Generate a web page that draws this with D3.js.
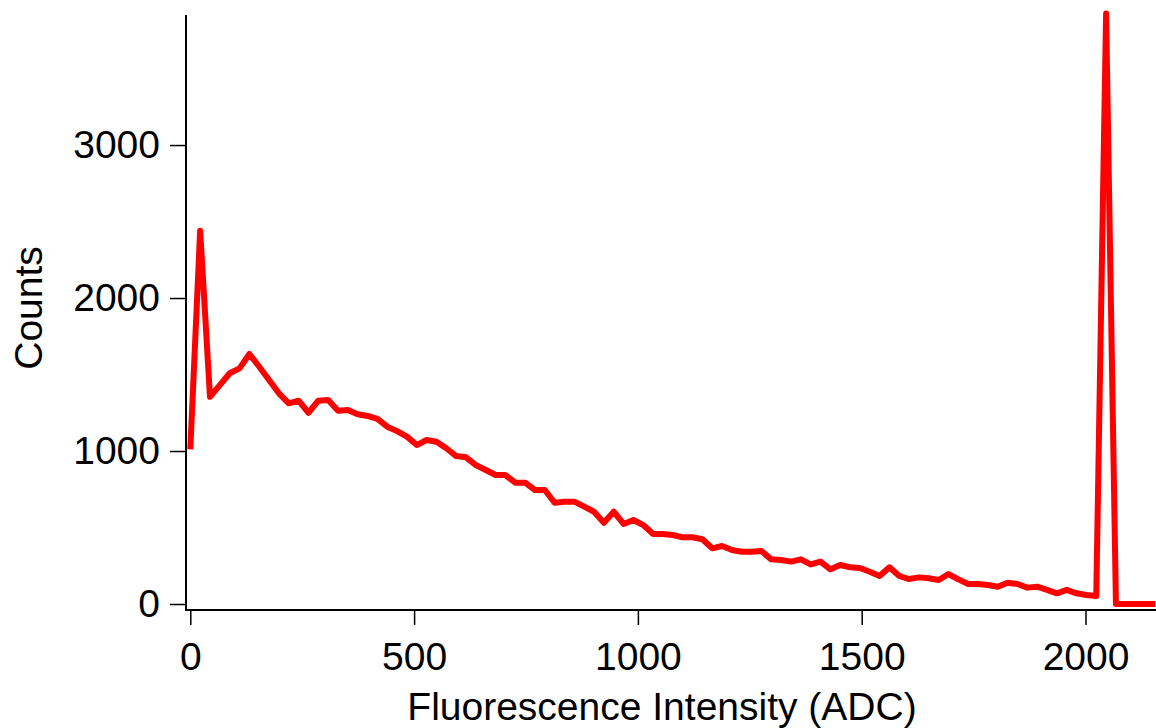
<!DOCTYPE html>
<html>
<head>
<meta charset="utf-8">
<script src="https://cdn.jsdelivr.net/npm/d3@7"></script>
<style>
  body { margin: 0; background: #fff; }
  svg text { font-family: "Liberation Sans", Arial, sans-serif; fill: #000; }
</style>
</head>
<body>
<svg id="chart" width="1156" height="728"></svg>
<script>
// histogram bins, 22 ADC wide
const binWidth = 22;
const counts = [
  1010, 2440, 1355, 1431, 1508, 1540, 1634, 1551, 1464, 1377,
  1312, 1329, 1250, 1329, 1333, 1263, 1268, 1240, 1229, 1210,
  1159, 1130, 1094, 1039, 1072, 1061, 1018, 967, 959, 908,
  876, 843, 843, 793, 793, 745, 745, 662, 669, 669,
  636, 603, 531, 603, 523, 549, 516, 458, 458, 451,
  436, 436, 423, 364, 379, 353, 342, 342, 346, 292,
  288, 277, 292, 259, 277, 227, 255, 240, 235, 211,
  183, 240, 183, 163, 174, 168, 157, 196, 161, 131,
  131, 124, 113, 139, 131, 107, 113, 92, 70, 92,
  70, 59, 52, 3860, 0, 0, 0, 0, 0
];
const xTicks = [0, 500, 1000, 1500, 2000];
const yTicks = [0, 1000, 2000, 3000];
const xLabel = "Fluorescence Intensity (ADC)";
const yLabel = "Counts";

const svg = d3.select("#chart");

const x = d3.scaleLinear().domain([0, 2157.5]).range([190.3, 1156]);
const y = d3.scaleLinear().domain([0, 3850]).range([604, 15]);

const axisX = 186, axisY = 610;
const fontSize = 39;

// x axis
const gx = svg.append("g").attr("transform", `translate(0,${axisY})`);
gx.call(d3.axisBottom(x).tickValues(xTicks).tickSize(15).tickSizeOuter(0).tickPadding(17)
    .tickFormat(d3.format("d")));
gx.select(".domain").remove();
gx.selectAll(".tick line").attr("stroke", "#000").attr("stroke-width", 1.5);
gx.selectAll(".tick text").style("font-size", fontSize + "px").attr("fill", "#000");
svg.append("line")
    .attr("x1", axisX - 1).attr("x2", 1156)
    .attr("y1", axisY).attr("y2", axisY)
    .attr("stroke", "#000").attr("stroke-width", 2);

// y axis
const gy = svg.append("g").attr("transform", `translate(${axisX},0)`);
gy.call(d3.axisLeft(y).tickValues(yTicks).tickSize(16).tickSizeOuter(0).tickPadding(10)
    .tickFormat(d3.format("d")));
gy.select(".domain").remove();
gy.selectAll(".tick line").attr("stroke", "#000").attr("stroke-width", 1.5);
gy.selectAll(".tick text").style("font-size", fontSize + "px").attr("fill", "#000");
svg.append("line")
    .attr("x1", axisX).attr("x2", axisX)
    .attr("y1", 15).attr("y2", axisY)
    .attr("stroke", "#000").attr("stroke-width", 2);

// axis titles
svg.append("text")
    .attr("x", 662).attr("y", 720)
    .attr("text-anchor", "middle")
    .style("font-size", fontSize + "px")
    .text(xLabel);

svg.append("text")
    .attr("transform", "translate(42,308) rotate(-90)")
    .attr("text-anchor", "middle")
    .style("font-size", fontSize + "px")
    .text(yLabel);

// the histogram line
const line = d3.line()
    .x((d, i) => x(i * binWidth))
    .y(d => y(d));

svg.append("path")
    .datum(counts)
    .attr("d", line)
    .attr("fill", "none")
    .attr("stroke", "#ff0000")
    .attr("stroke-width", 6)
    .attr("stroke-linejoin", "round");
</script>
</body>
</html>
